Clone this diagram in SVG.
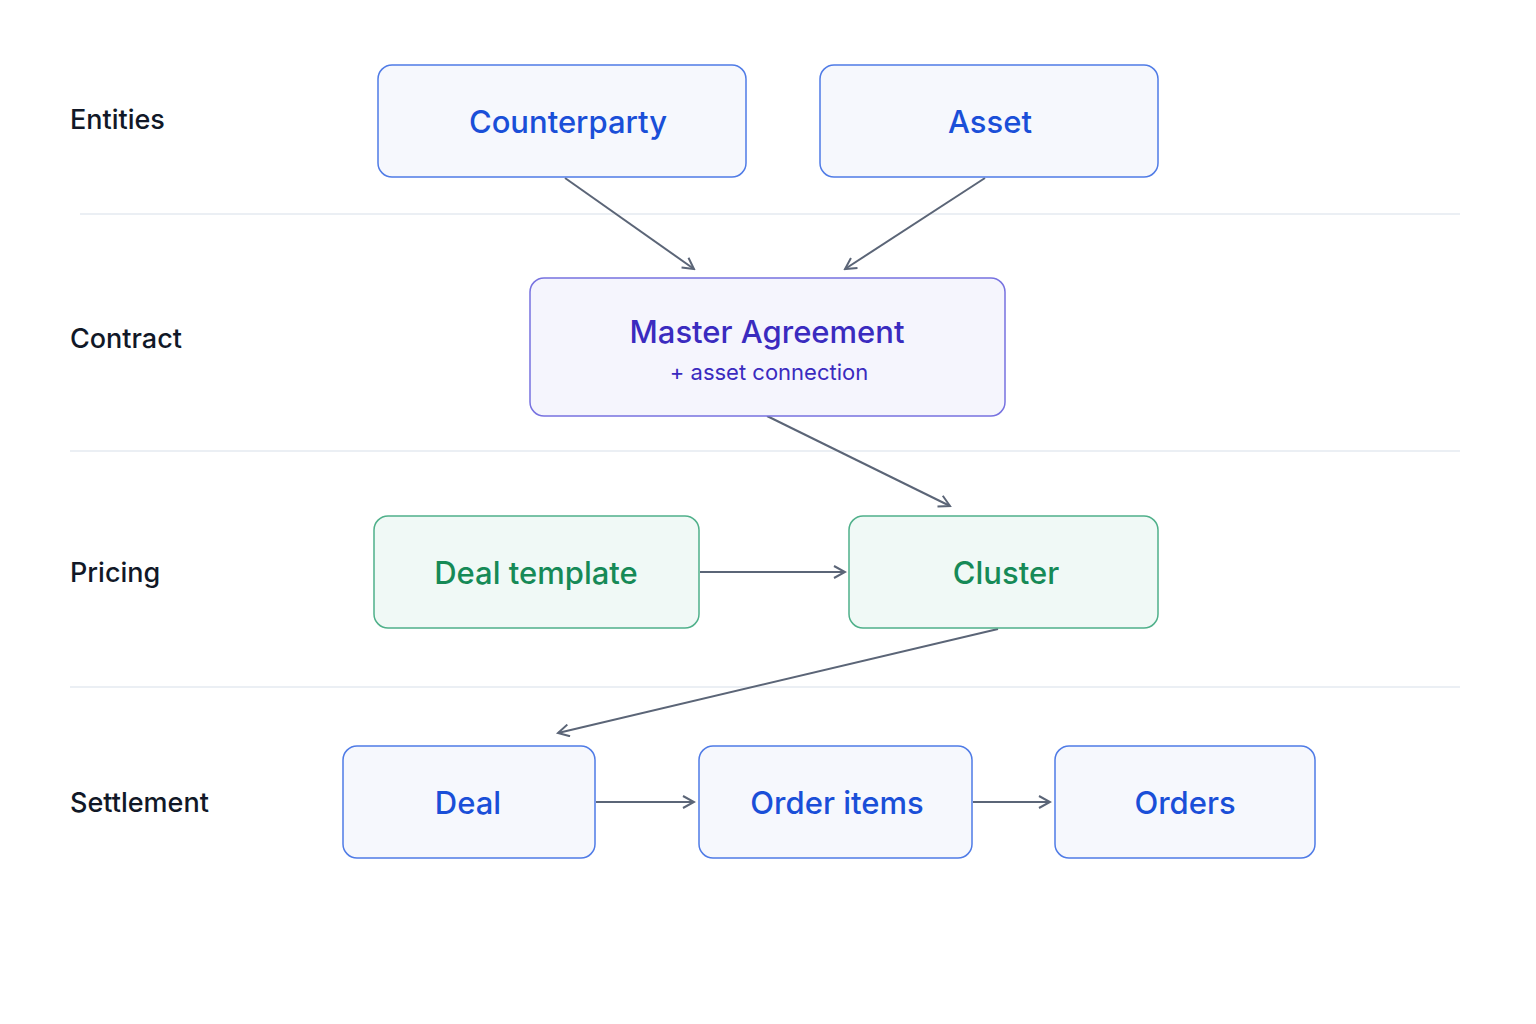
<svg xmlns="http://www.w3.org/2000/svg" width="1536" height="1024" viewBox="0 0 1536 1024">
<style>
.lane{font-family:Inter,"Noto Sans",sans-serif;font-size:27px;fill:#111827;font-weight:500}
.sep{stroke:#e5eaf0;stroke-width:1.5}
.blue rect{fill:#f6f8fd;stroke:#4f7be6;stroke-width:1.5}
.blue text{fill:#1a4fd8}
.purple rect{fill:#f5f5fd;stroke:#7772e0;stroke-width:1.5}
.green rect{fill:#f0f9f6;stroke:#4fb08a;stroke-width:1.5}
.green text{fill:#168a57}
.t{font-family:Inter,"Noto Sans",sans-serif;font-size:31px;font-weight:500;text-anchor:middle}
.conn line{stroke:#5b6577;stroke-width:2;fill:none}
</style>
<defs>
<marker id="a" viewBox="0 0 14 14" refX="12" refY="7" markerWidth="14" markerHeight="14" markerUnits="userSpaceOnUse" orient="auto"><path d="M1 1 L12 7 L1 13" fill="none" stroke="#5b6577" stroke-width="2"/></marker>
</defs>
<rect width="1536" height="1024" fill="#fff"/>
<line class="sep" x1="80" y1="214" x2="1460" y2="214"/>
<line class="sep" x1="70" y1="451" x2="1460" y2="451"/>
<line class="sep" x1="70" y1="687" x2="1460" y2="687"/>
<text class="lane" x="70" y="129">Entities</text>
<text class="lane" x="70" y="348">Contract</text>
<text class="lane" x="70" y="582">Pricing</text>
<text class="lane" x="70" y="812">Settlement</text>
<g class="conn">
<line x1="565" y1="178" x2="694" y2="269" marker-end="url(#a)"/>
<line x1="985" y1="178" x2="845" y2="269" marker-end="url(#a)"/>
<line x1="767" y1="416" x2="950" y2="506" marker-end="url(#a)"/>
<line x1="700" y1="572" x2="845" y2="572" marker-end="url(#a)"/>
<line x1="998" y1="629" x2="558" y2="733" marker-end="url(#a)"/>
<line x1="596" y1="802" x2="694" y2="802" marker-end="url(#a)"/>
<line x1="973" y1="802" x2="1050" y2="802" marker-end="url(#a)"/>
</g>
<g id="counterparty" class="blue"><rect x="378" y="65" width="368" height="112" rx="14"/><text class="t" x="568" y="133">Counterparty</text></g>
<g id="asset" class="blue"><rect x="820" y="65" width="338" height="112" rx="14"/><text class="t" x="990" y="133">Asset</text></g>
<g id="master" class="purple"><rect x="530" y="278" width="475" height="138" rx="14"/><text class="t" x="767" y="343" fill="#3a2bbf">Master Agreement</text><text x="769" y="380" font-family="Inter,'Noto Sans',sans-serif" font-size="22" text-anchor="middle" fill="#3a2bbf">+ asset connection</text></g>
<g id="template" class="green"><rect x="374" y="516" width="325" height="112" rx="14"/><text class="t" x="536" y="584">Deal template</text></g>
<g id="cluster" class="green"><rect x="849" y="516" width="309" height="112" rx="14"/><text class="t" x="1006" y="584">Cluster</text></g>
<g id="deal" class="blue"><rect x="343" y="746" width="252" height="112" rx="14"/><text class="t" x="468" y="814">Deal</text></g>
<g id="orderitems" class="blue"><rect x="699" y="746" width="273" height="112" rx="14"/><text class="t" x="837" y="814">Order items</text></g>
<g id="orders" class="blue"><rect x="1055" y="746" width="260" height="112" rx="14"/><text class="t" x="1185" y="814">Orders</text></g>
</svg>
